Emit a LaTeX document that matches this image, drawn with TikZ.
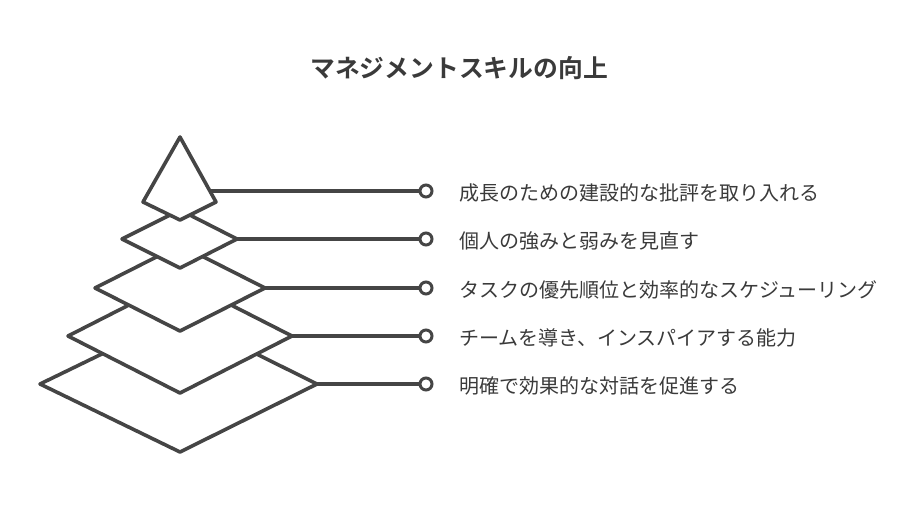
\documentclass[tikz,border=0pt]{standalone}
\usepackage{fontspec}
\setmainfont{Noto Sans CJK JP}
\newfontfamily\jpbold{Noto Sans CJK JP Bold}
\definecolor{ink}{HTML}{454545}
\definecolor{txt}{HTML}{3A3A3A}
\begin{document}
\begin{tikzpicture}[x=1pt,y=-1pt,
  layer/.style={draw=ink,fill=white,line width=3.6pt,line join=round},
  conn/.style={draw=ink,line width=3.6pt},
  dot/.style={circle,draw=ink,fill=white,line width=3pt,minimum size=12pt,inner sep=0pt},
  lbl/.style={anchor=west,text=txt,font=\fontsize{20pt}{23pt}\selectfont,inner sep=0pt}]
\useasboundingbox (0,0) rectangle (912,504);
\node[text=txt,font=\jpbold\fontsize{24.8pt}{28pt}\selectfont] (title) at (459,68) {マネジメントスキルの向上};
% layers, largest first
\draw[layer] (40,384) coordinate (l5) -- (180,316) -- (317,384) coordinate (r5) -- (180,452) -- cycle;
\draw[layer] (68,336) coordinate (l4) -- (180,279) -- (292,336) coordinate (r4) -- (180,393) -- cycle;
\draw[layer] (95,288) coordinate (l3) -- (180,245) -- (265,288) coordinate (r3) -- (180,331) -- cycle;
\draw[layer] (122,239) coordinate (l2) -- (180,210) -- (237,239) coordinate (r2) -- (180,268) -- cycle;
\draw[layer] (180,137) coordinate (apex) -- (216,202) -- (180,220) -- (143,202) -- cycle;
\coordinate (r1) at (210,191);
% dots
\node[dot] (d1) at (426,191) {};
\node[dot] (d2) at (426,239) {};
\node[dot] (d3) at (426,288) {};
\node[dot] (d4) at (426,336) {};
\node[dot] (d5) at (426,384) {};
\foreach \i in {1,...,5} { \draw[conn] (r\i) -- (d\i.west); }
% labels
\node[lbl] (t1) at (459,193) {成長のための建設的な批評を取り入れる};
\node[lbl] (t2) at (459,241) {個人の強みと弱みを見直す};
\node[lbl] (t3) at (459,290) {タスクの優先順位と効率的なスケジューリング};
\node[lbl] (t4) at (459,338) {チームを導き、インスパイアする能力};
\node[lbl] (t5) at (459,386) {明確で効果的な対話を促進する};
\end{tikzpicture}
\end{document}
